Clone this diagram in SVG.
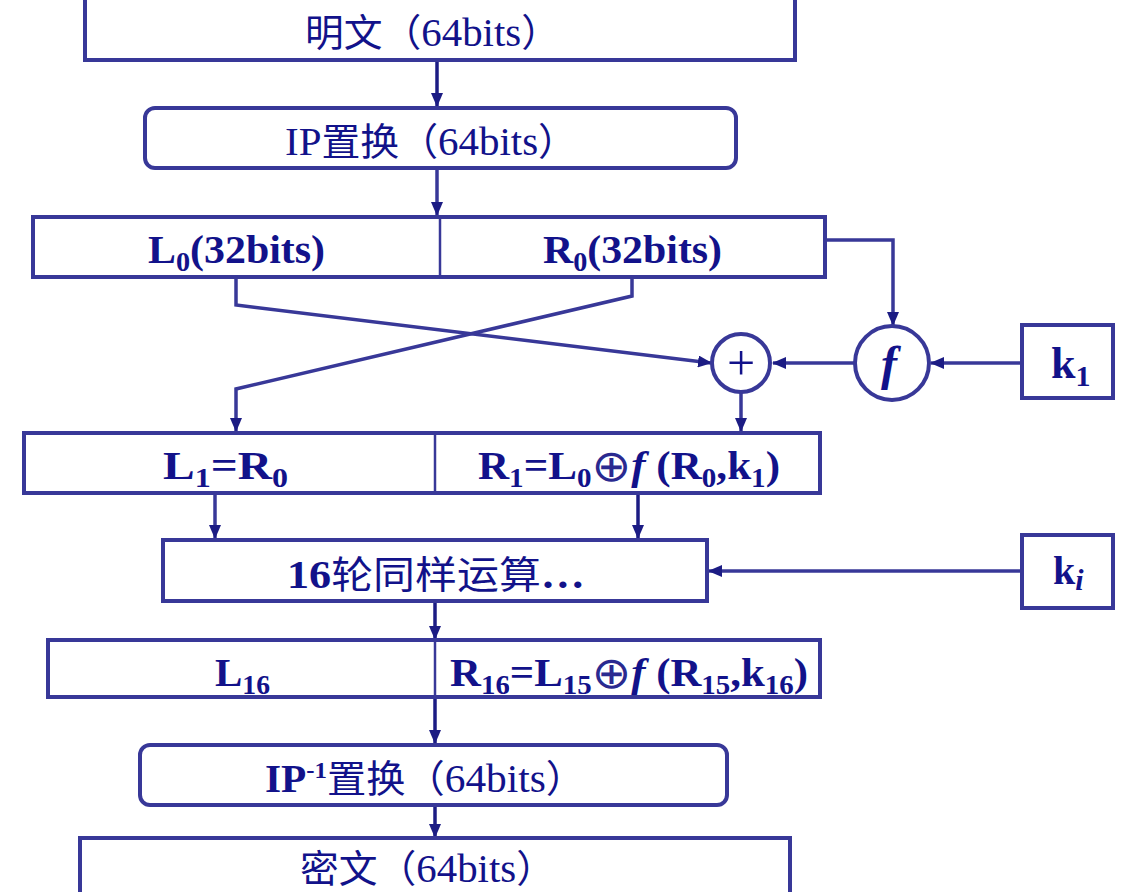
<svg xmlns="http://www.w3.org/2000/svg" width="1148" height="892" viewBox="0 0 1148 892">
<defs>
<marker id="ah" markerUnits="userSpaceOnUse" markerWidth="14" markerHeight="12" refX="13" refY="6" orient="auto">
<path d="M0,0 L14,6 L0,12 Z" fill="#1c1c84"/>
</marker>
<style>
.box{fill:#fff;stroke:#383898;stroke-width:4}
.div{stroke:#383898;stroke-width:2.5}
.ln{fill:none;stroke:#383898;stroke-width:3.5}
.dk{fill:none;stroke:#1c1c84;stroke-width:3.5}
text{font-family:'Liberation Serif','Times New Roman',serif;fill:#12128a;font-size:40px}
.cj{font-family:'Noto Sans CJK SC',sans-serif;font-size:38px}
.b{font-weight:bold}
.sub{font-size:27px}
.sup{font-size:24px}
.ox{font-family:'DejaVu Sans',sans-serif;font-weight:normal;font-size:44px;fill:#2a2a90}
.plus{font-family:'Liberation Serif',serif;font-size:50px}
.key{font-size:44px}
.ksub{font-size:30px}
</style>
</defs>
<rect width="1148" height="892" fill="#fff"/>

<g id="connectors">
<line class="dk" x1="437" y1="62" x2="437" y2="106" marker-end="url(#ah)"/>
<line class="ln" x1="437" y1="170" x2="437" y2="215" marker-end="url(#ah)"/>
<polyline class="ln" points="827,240 893,240 893,325" marker-end="url(#ah)"/>
<line class="ln" x1="1022" y1="363" x2="931" y2="363" marker-end="url(#ah)"/>
<line class="ln" x1="855" y1="363" x2="773" y2="363" marker-end="url(#ah)"/>
<polyline class="ln" points="236,279 236,305 711,363" marker-end="url(#ah)"/>
<polyline class="ln" points="632,279 632,296 236,389 236,431" marker-end="url(#ah)"/>
<line class="ln" x1="741" y1="392" x2="741" y2="431" marker-end="url(#ah)"/>
<line class="ln" x1="215" y1="495" x2="215" y2="538" marker-end="url(#ah)"/>
<line class="dk" x1="638" y1="495" x2="638" y2="538" marker-end="url(#ah)"/>
<line class="ln" x1="1022" y1="571" x2="709" y2="571" marker-end="url(#ah)"/>
<line class="dk" x1="435" y1="603" x2="435" y2="639" marker-end="url(#ah)"/>
<line class="dk" x1="435" y1="699" x2="435" y2="743" marker-end="url(#ah)"/>
<line class="dk" x1="435" y1="807" x2="435" y2="837" marker-end="url(#ah)"/>
</g>

<g id="plaintext">
<rect class="box" x="85" y="-2" width="710" height="62"/>
<text x="305" y="46" textLength="255" lengthAdjust="spacingAndGlyphs"><tspan class="cj">明文（</tspan>64bits<tspan class="cj">）</tspan></text>
</g>

<g id="ip">
<rect class="box" x="145" y="108" width="591" height="60" rx="10"/>
<text x="285" y="155" textLength="292" lengthAdjust="spacingAndGlyphs">IP<tspan class="cj">置换（</tspan>64bits<tspan class="cj">）</tspan></text>
</g>

<g id="l0r0">
<rect class="box" x="33" y="217" width="792" height="60"/>
<line class="div" x1="440" y1="217" x2="440" y2="277"/>
<text class="b" x="148" y="263" textLength="177" lengthAdjust="spacingAndGlyphs">L<tspan class="sub" dy="8">0</tspan><tspan dy="-8">(32bits)</tspan></text>
<text class="b" x="543" y="263" textLength="179" lengthAdjust="spacingAndGlyphs">R<tspan class="sub" dy="8">0</tspan><tspan dy="-8">(32bits)</tspan></text>
</g>

<g id="xor">
<circle class="box" cx="741" cy="363" r="29"/>
<text class="plus" x="741" y="380" text-anchor="middle">+</text>
</g>

<g id="f">
<circle class="box" cx="892" cy="363" r="37"/>
<text class="b" x="889" y="380" text-anchor="middle" font-style="italic" style="font-size:48px">f</text>
</g>

<g id="k1">
<rect class="box" x="1022" y="325" width="91" height="73"/>
<text class="b key" x="1051" y="378">k<tspan class="ksub" dy="8">1</tspan></text>
</g>

<g id="l1r1">
<rect class="box" x="24" y="433" width="796" height="60"/>
<line class="div" x1="435" y1="433" x2="435" y2="493"/>
<text class="b" x="163" y="479" textLength="125" lengthAdjust="spacingAndGlyphs">L<tspan class="sub" dy="8">1</tspan><tspan dy="-8">=R</tspan><tspan class="sub" dy="8">0</tspan></text>
<text class="b" x="478" y="479" textLength="302" lengthAdjust="spacingAndGlyphs">R<tspan class="sub" dy="8">1</tspan><tspan dy="-8">=L</tspan><tspan class="sub" dy="8">0</tspan><tspan class="ox" dy="-6">⊕</tspan><tspan font-style="italic" dy="-2">f</tspan> (R<tspan class="sub" dy="8">0</tspan><tspan dy="-8">,k</tspan><tspan class="sub" dy="8">1</tspan><tspan dy="-8">)</tspan></text>
</g>

<g id="rounds">
<rect class="box" x="163" y="540" width="544" height="61"/>
<text class="b" x="287" y="588" textLength="298" lengthAdjust="spacingAndGlyphs">16<tspan class="cj" font-weight="normal">轮同样运算</tspan>…</text>
</g>

<g id="ki">
<rect class="box" x="1022" y="535" width="91" height="73"/>
<text class="b key" x="1053" y="584" style="font-size:40px">k<tspan class="ksub" dy="6" font-style="italic">i</tspan></text>
</g>

<g id="l16r16">
<rect class="box" x="48" y="640" width="772" height="57"/>
<line class="div" x1="435" y1="640" x2="435" y2="697"/>
<text class="b" x="215" y="686" textLength="55" lengthAdjust="spacingAndGlyphs">L<tspan class="sub" dy="8">16</tspan></text>
<text class="b" x="450" y="686" textLength="358" lengthAdjust="spacingAndGlyphs">R<tspan class="sub" dy="8">16</tspan><tspan dy="-8">=L</tspan><tspan class="sub" dy="8">15</tspan><tspan class="ox" dy="-6">⊕</tspan><tspan font-style="italic" dy="-2">f</tspan> (R<tspan class="sub" dy="8">15</tspan><tspan dy="-8">,k</tspan><tspan class="sub" dy="8">16</tspan><tspan dy="-8">)</tspan></text>
</g>

<g id="ipinv">
<rect class="box" x="140" y="745" width="587" height="60" rx="10"/>
<text x="265" y="792" textLength="320" lengthAdjust="spacingAndGlyphs"><tspan font-weight="bold">IP</tspan><tspan class="sup" font-weight="bold" dy="-14">-1</tspan><tspan class="cj" dy="14">置换（</tspan>64bits<tspan class="cj">）</tspan></text>
</g>

<g id="ciphertext">
<rect class="box" x="80" y="838" width="710" height="60"/>
<text x="300" y="882" textLength="255" lengthAdjust="spacingAndGlyphs"><tspan class="cj">密文（</tspan>64bits<tspan class="cj">）</tspan></text>
</g>
</svg>
